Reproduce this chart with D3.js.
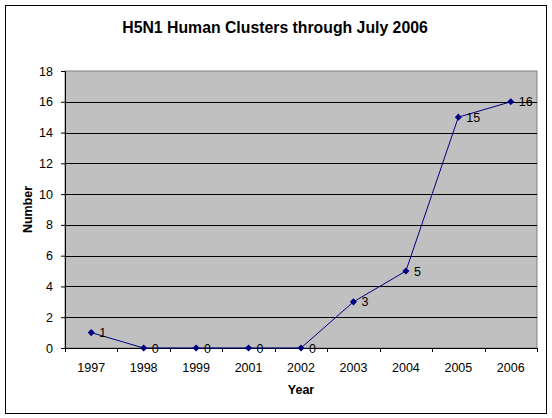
<!DOCTYPE html>
<html>
<head>
<meta charset="utf-8">
<script src="https://cdn.jsdelivr.net/npm/d3@7"></script>
<style>
  body { margin: 0; background: #fff; }
  text { font-family: "Liberation Sans", Arial, sans-serif; }
</style>
</head>
<body>
<div class="chart"></div>
<script>
var years = ["1997", "1998", "1999", "2001", "2002", "2003", "2004", "2005", "2006"];
var clusters = [1, 0, 0, 0, 0, 3, 5, 15, 16];
var yTicks = [0, 2, 4, 6, 8, 10, 12, 14, 16, 18];

var svgWidth = 552;
var svgHeight = 418;

var margin = { top: 71, right: 15, bottom: 70, left: 65 };
var width = svgWidth - margin.left - margin.right;
var height = svgHeight - margin.top - margin.bottom;

var root = d3.select(".chart").append("svg")
  .attr("width", svgWidth)
  .attr("height", svgHeight);

// outer chart border
root.append("rect")
  .attr("x", 5.5).attr("y", 5.5)
  .attr("width", 541).attr("height", 408)
  .attr("fill", "#fff").attr("stroke", "#000").attr("stroke-width", 1);

root.append("text")
  .attr("x", 275)
  .attr("y", 33)
  .attr("text-anchor", "middle")
  .attr("font-size", "15.8px")
  .attr("font-weight", "bold")
  .text("H5N1 Human Clusters through July 2006");

var svg = root.append("g")
  .attr("transform", "translate(" + margin.left + "," + margin.top + ")");

var x = d3.scaleBand().domain(years).range([0, width]);
var y = d3.scaleLinear().domain([0, 18]).range([height, 0]);

svg.append("rect")
  .attr("width", width).attr("height", height)
  .attr("fill", "#c0c0c0")
  .attr("stroke", "#808080");

// gridlines
svg.selectAll(".grid")
  .data(yTicks.filter(function(d) { return d > 0 && d < 18; }))
  .enter().append("line")
  .attr("x1", 0).attr("x2", width)
  .attr("y1", function(d) { return Math.round(y(d)) + 0.5; })
  .attr("y2", function(d) { return Math.round(y(d)) + 0.5; })
  .attr("stroke", "#000");

var leftAxis = d3.axisLeft(y).tickValues(yTicks).tickSize(4).tickPadding(8);
var gy = svg.append("g").call(leftAxis);
gy.selectAll("text").attr("font-size", "12.5px").attr("font-family", "Liberation Sans, Arial, sans-serif").attr("fill", "#000");

// category axis with ticks between categories
var bottomAxis = d3.axisBottom(x).tickSize(0).tickPadding(15);
var gx = svg.append("g").attr("transform", "translate(0," + height + ")").call(bottomAxis);
gx.selectAll("text").attr("font-size", "12.5px").attr("font-family", "Liberation Sans, Arial, sans-serif").attr("fill", "#000");
gx.select(".domain").attr("stroke", "#000");
gx.selectAll(".sep")
  .data(d3.range(years.length + 1))
  .enter().append("line")
  .attr("class", "sep")
  .attr("x1", function(i) { return Math.round(i * x.step()) + 0.5; })
  .attr("x2", function(i) { return Math.round(i * x.step()) + 0.5; })
  .attr("y1", 0).attr("y2", 4)
  .attr("stroke", "#000");

var line = d3.line()
  .x(function(d, i) { return x(years[i]) + x.bandwidth() / 2; })
  .y(function(d) { return y(d); });

svg.append("path")
  .datum(clusters)
  .attr("d", line)
  .attr("fill", "none")
  .attr("stroke", "#000080")
  .attr("stroke-width", 1);

svg.selectAll(".pt")
  .data(clusters)
  .enter().append("path")
  .attr("class", "pt")
  .attr("d", d3.symbol().type(d3.symbolDiamond2).size(32))
  .attr("transform", function(d, i) {
    return "translate(" + (x(years[i]) + x.bandwidth() / 2) + "," + y(d) + ")";
  })
  .attr("fill", "#000080");

svg.selectAll(".lbl")
  .data(clusters)
  .enter().append("text")
  .attr("class", "lbl")
  .attr("x", function(d, i) { return x(years[i]) + x.bandwidth() / 2 + 8; })
  .attr("y", function(d) { return y(d) + 4.5; })
  .attr("font-size", "12.5px")
  .text(function(d) { return d; });

svg.append("text")
  .attr("x", width / 2)
  .attr("y", height + 46)
  .attr("text-anchor", "middle")
  .attr("font-size", "12.5px")
  .attr("font-weight", "bold")
  .text("Year");

svg.append("text")
  .attr("transform", "rotate(-90)")
  .attr("x", -height / 2)
  .attr("y", -33)
  .attr("text-anchor", "middle")
  .attr("font-size", "12.5px")
  .attr("font-weight", "bold")
  .text("Number");
</script>
</body>
</html>
